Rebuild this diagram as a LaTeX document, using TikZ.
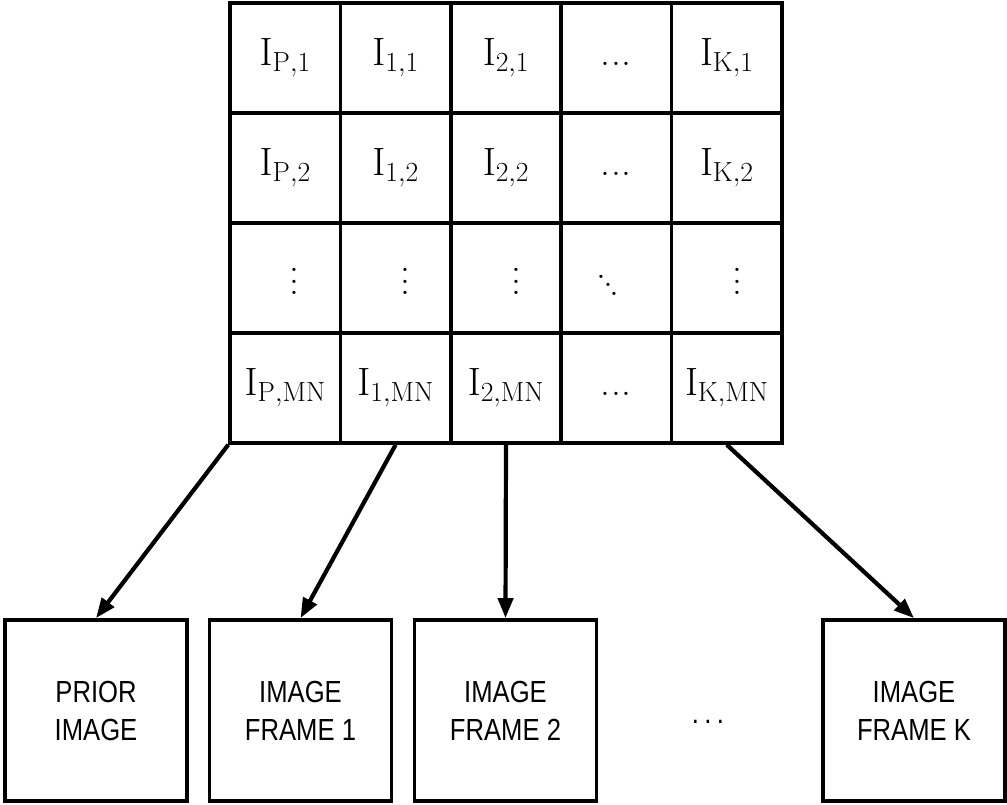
\RequirePackage{fix-cm}
\documentclass[tikz,border=0pt]{standalone}
\usepackage[no-math]{fontspec}
\newfontfamily\boxfont[FakeStretch=0.84]{Liberation Sans}
\usetikzlibrary{arrows.meta}
\newcommand\myent[2]{$\mathrm{I}_{\mathrm{#1},\mathrm{#2}}$}
\newcommand\myph{\vphantom{\mathrm{I}_{\mathrm{P},1}}}
\newcommand\myhd{$\myph$.\kern0.6pt.\kern0.6pt.}
\newcommand\myvd{\vbox{\baselineskip=11.5pt\lineskiplimit=-100pt\hbox{.}\hbox{.}\hbox{.}}}
\newcommand\mydd{\hbox{\raise17pt\hbox{.}\kern-3pt\raise8.5pt\hbox{.}\kern-3pt\hbox{.}}}
\begin{document}
\begin{tikzpicture}[x=1pt,y=-1pt,
  cell/.style={draw, line width=3.5pt, minimum width=110.4pt, minimum height=110pt, inner sep=0pt, font=\fontsize{39.5}{40}\selectfont},
  dotsx/.style={inner sep=0pt, font=\fontsize{39.5}{40}\selectfont},
  frame/.style={draw, line width=3.8pt, minimum width=182pt, minimum height=181pt, inner sep=0pt, align=center, font=\boxfont\fontsize{30.5}{38}\selectfont},
  arr/.style={line width=4.2pt, -{Triangle[length=20pt,width=15pt]}}]
\useasboundingbox (0,0) rectangle (1007,804);
% row 1
\node[cell] (c11) at (285.2,58) {\myent{P}{1}};
\node[cell] (c21) at (395.6,58) {\myent{1}{1}};
\node[cell] (c31) at (506.0,58) {\myent{2}{1}};
\node[cell] (c41) at (616.4,58) {\myhd};
\node[cell] (c51) at (726.8,58) {\myent{K}{1}};
% row 2
\node[cell] (c12) at (285.2,168) {\myent{P}{2}};
\node[cell] (c22) at (395.6,168) {\myent{1}{2}};
\node[cell] (c32) at (506.0,168) {\myent{2}{2}};
\node[cell] (c42) at (616.4,168) {\myhd};
\node[cell] (c52) at (726.8,168) {\myent{K}{2}};
% row 3
\node[cell] (c13) at (285.2,278) {};
\node[cell] (c23) at (395.6,278) {};
\node[cell] (c33) at (506.0,278) {};
\node[cell] (c43) at (616.4,278) {};
\node[cell] (c53) at (726.8,278) {};
\node[dotsx] (v1) at (294,281.5) {\myvd};
\node[dotsx] (v2) at (405,281.5) {\myvd};
\node[dotsx] (v3) at (516,281.5) {\myvd};
\node[dotsx] (v4) at (608,285) {\mydd};
\node[dotsx] (v5) at (737,281.5) {\myvd};
% row 4
\node[cell] (c14) at (285.2,388) {\myent{P}{MN}};
\node[cell] (c24) at (395.6,388) {\myent{1}{MN}};
\node[cell] (c34) at (506.0,388) {\myent{2}{MN}};
\node[cell] (c44) at (616.4,388) {\myhd};
\node[cell] (c54) at (726.8,388) {\myent{K}{MN}};
% bottom boxes
\node[frame] (b1) at (96,710.5) {PRIOR\\IMAGE};
\node[frame] (b2) at (300.5,710.5) {IMAGE\\FRAME 1};
\node[frame] (b3) at (505.5,710.5) {IMAGE\\FRAME 2};
\node[frame] (b4) at (914,710.5) {IMAGE\\FRAME K};
\node[anchor=base, inner sep=0pt, font=\boxfont\fontsize{30.5}{38}\selectfont] (dots) at (708,723) {.\kern5.4pt.\kern5.4pt.};
% arrows
\draw[arr] (c14.south west) -- (b1.north);
\draw[arr] (c24.south) -- (b2.north);
\draw[arr] (c34.south) -- (b3.north);
\draw[arr] (c54.south) -- (b4.north);
\end{tikzpicture}
\end{document}
